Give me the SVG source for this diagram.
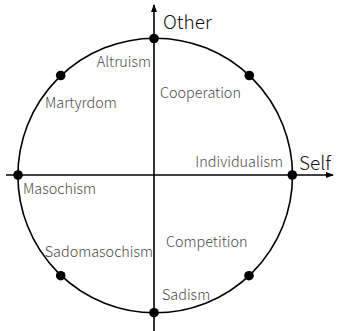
<svg xmlns="http://www.w3.org/2000/svg" width="337" height="331" viewBox="0 0 337 331">
<style>
.ax{stroke:#000;stroke-width:1.6;fill:none}
.dot{fill:#000}
.lbl{font-family:"Noto Sans CJK JP","Noto Sans",sans-serif;font-size:14.4px;font-weight:300;fill:#4a4a4a}
.big{font-family:"Noto Sans CJK JP","Noto Sans",sans-serif;font-size:19px;font-weight:300;fill:#111}
</style>
<defs>
<marker id="ah" viewBox="0 0 8 8" refX="7" refY="4" markerWidth="8" markerHeight="8" markerUnits="userSpaceOnUse" orient="auto">
<path d="M0,1 L8,4 L0,7 Z" fill="#000"/>
</marker>
</defs>
<g id="connectors">
<ellipse class="ax" cx="155.2" cy="175.5" rx="137.3" ry="137.3"/>
<line class="ax" x1="154" y1="331" x2="154" y2="5" marker-end="url(#ah)"/>
<line class="ax" x1="6" y1="175" x2="333" y2="175" marker-end="url(#ah)"/>
</g>
<g id="dots">
<circle class="dot" cx="154" cy="38.5" r="4.8"/>
<circle class="dot" cx="154" cy="312.7" r="4.8"/>
<circle class="dot" cx="18" cy="175" r="4.8"/>
<circle class="dot" cx="292.3" cy="175" r="4.8"/>
<circle class="dot" cx="60.7" cy="75.5" r="4.8"/>
<circle class="dot" cx="249.3" cy="75.5" r="4.8"/>
<circle class="dot" cx="60.7" cy="275.7" r="4.8"/>
<circle class="dot" cx="249" cy="275.7" r="4.8"/>
</g>
<g id="axis-labels">
<text class="big" x="163" y="29">Other</text>
<text class="big" x="299" y="170">Self</text>
</g>
<g id="labels">
<text class="lbl" x="151" y="67" text-anchor="end">Altruism</text>
<text class="lbl" x="45" y="108">Martyrdom</text>
<text class="lbl" x="160" y="98">Cooperation</text>
<text class="lbl" x="283" y="167" text-anchor="end">Individualism</text>
<text class="lbl" x="23" y="194">Masochism</text>
<text class="lbl" x="166" y="247">Competition</text>
<text class="lbl" x="153" y="257" text-anchor="end">Sadomasochism</text>
<text class="lbl" x="162" y="300">Sadism</text>
</g>
</svg>
